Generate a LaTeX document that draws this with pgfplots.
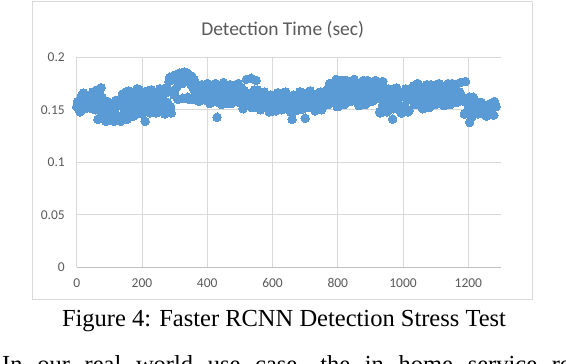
\documentclass[border=0pt]{standalone}
\usepackage{fontspec}
\setmainfont{Carlito}
\newfontfamily\capfont{Liberation Serif}
\usepackage{pgfplots}
\pgfplotsset{compat=1.18}
\definecolor{excelblue}{HTML}{5B9BD5}
\definecolor{gridgray}{HTML}{D9D9D9}
\definecolor{axisgray}{HTML}{BFBFBF}
\definecolor{labelgray}{HTML}{595959}

\pgfplotstableread{
x y
0 0.153
5 0.154
10 0.148
15 0.160
20 0.166
25 0.151
30 0.157
35 0.162
40 0.153
45 0.158
50 0.167
55 0.155
60 0.165
65 0.141
70 0.167
75 0.171
80 0.148
85 0.159
90 0.139
95 0.158
100 0.146
105 0.153
110 0.141
115 0.148
120 0.159
125 0.144
130 0.155
135 0.139
140 0.165
145 0.147
150 0.158
155 0.141
160 0.168
165 0.151
170 0.161
175 0.144
180 0.158
185 0.170
190 0.153
195 0.165
200 0.146
205 0.166
210 0.139
215 0.152
220 0.160
225 0.147
230 0.169
235 0.156
240 0.163
245 0.150
250 0.158
255 0.170
260 0.154
265 0.168
270 0.146
275 0.171
280 0.154
285 0.181
290 0.147
295 0.182
300 0.167
305 0.178
310 0.160
315 0.185
320 0.176
325 0.161
330 0.186
335 0.180
340 0.162
345 0.183
350 0.174
355 0.160
360 0.179
365 0.163
370 0.172
375 0.158
380 0.173
385 0.162
390 0.169
395 0.159
400 0.175
405 0.163
410 0.169
415 0.158
420 0.165
425 0.175
430 0.143
435 0.161
440 0.171
445 0.155
450 0.176
455 0.160
460 0.167
465 0.156
470 0.174
475 0.163
480 0.169
485 0.158
490 0.165
495 0.175
500 0.161
505 0.171
510 0.151
515 0.167
520 0.179
525 0.156
530 0.162
535 0.180
540 0.152
545 0.169
550 0.178
555 0.159
560 0.161
565 0.151
570 0.158
575 0.167
580 0.154
585 0.163
590 0.148
595 0.164
600 0.153
605 0.159
610 0.149
615 0.166
620 0.156
625 0.161
630 0.151
635 0.158
640 0.167
645 0.154
650 0.163
655 0.148
660 0.141
665 0.164
670 0.153
675 0.160
680 0.150
685 0.167
690 0.157
695 0.162
700 0.142
705 0.152
710 0.158
715 0.168
720 0.155
725 0.164
730 0.149
735 0.165
740 0.154
745 0.160
750 0.150
755 0.167
760 0.159
765 0.166
770 0.155
775 0.175
780 0.164
785 0.159
790 0.173
795 0.179
800 0.153
805 0.175
810 0.160
815 0.169
820 0.155
825 0.178
830 0.164
835 0.172
840 0.158
845 0.166
850 0.179
855 0.161
860 0.174
865 0.154
870 0.175
875 0.160
880 0.169
885 0.155
890 0.178
895 0.164
900 0.172
905 0.158
910 0.166
915 0.178
920 0.161
925 0.173
930 0.147
935 0.167
938 0.177
940 0.153
945 0.161
950 0.148
955 0.170
960 0.157
965 0.164
968 0.141
970 0.151
975 0.159
980 0.171
985 0.154
990 0.166
995 0.147
1000 0.167
1005 0.153
1010 0.161
1015 0.148
1020 0.170
1025 0.161
1030 0.168
1035 0.155
1040 0.163
1045 0.175
1050 0.158
1055 0.170
1060 0.151
1065 0.171
1070 0.157
1075 0.165
1080 0.152
1085 0.174
1090 0.161
1095 0.168
1100 0.155
1105 0.163
1110 0.175
1115 0.158
1120 0.170
1125 0.154
1130 0.173
1135 0.160
1140 0.167
1145 0.155
1150 0.175
1155 0.163
1160 0.169
1165 0.157
1170 0.165
1175 0.176
1180 0.161
1185 0.159
1190 0.146
1191 0.177
1195 0.160
1200 0.150
1204 0.138
1205 0.156
1210 0.143
1215 0.162
1220 0.152
1225 0.158
1230 0.146
1235 0.150
1240 0.157
1245 0.148
1250 0.154
1255 0.144
1260 0.155
1265 0.147
1270 0.152
1275 0.145
1280 0.158
1285 0.153
3 0.158
8 0.152
13 0.162
18 0.156
23 0.165
28 0.153
33 0.160
38 0.158
43 0.164
48 0.151
53 0.161
58 0.150
63 0.169
68 0.156
73 0.144
78 0.162
83 0.151
88 0.157
93 0.142
98 0.151
103 0.147
108 0.155
113 0.139
118 0.152
123 0.144
128 0.158
133 0.154
138 0.142
143 0.161
148 0.150
153 0.167
158 0.145
163 0.158
168 0.153
173 0.164
178 0.147
183 0.162
188 0.153
193 0.169
198 0.158
203 0.148
208 0.163
213 0.154
218 0.168
223 0.151
228 0.160
233 0.157
238 0.165
243 0.147
248 0.162
253 0.153
258 0.169
263 0.160
268 0.149
273 0.166
278 0.157
283 0.177
288 0.153
293 0.168
298 0.164
303 0.183
308 0.172
313 0.179
318 0.184
323 0.175
328 0.182
333 0.177
338 0.185
343 0.160
348 0.178
353 0.182
358 0.170
363 0.167
368 0.160
373 0.171
378 0.164
383 0.174
388 0.162
393 0.169
398 0.166
403 0.171
408 0.156
413 0.168
418 0.161
423 0.174
428 0.165
433 0.157
438 0.169
443 0.162
448 0.173
453 0.159
458 0.167
463 0.164
468 0.171
473 0.156
478 0.168
483 0.161
488 0.174
493 0.165
498 0.157
503 0.169
508 0.158
513 0.168
518 0.155
523 0.162
528 0.160
533 0.166
538 0.152
543 0.163
548 0.157
553 0.169
558 0.157
563 0.150
568 0.161
573 0.155
578 0.165
583 0.152
588 0.159
593 0.157
598 0.163
603 0.149
608 0.160
613 0.154
618 0.166
623 0.157
628 0.150
633 0.161
638 0.155
643 0.165
648 0.152
653 0.159
658 0.157
663 0.163
668 0.149
673 0.161
678 0.155
683 0.167
688 0.158
693 0.151
698 0.162
703 0.156
708 0.166
713 0.153
718 0.160
723 0.158
728 0.164
733 0.150
738 0.161
743 0.155
748 0.167
753 0.158
758 0.154
763 0.165
768 0.159
773 0.172
778 0.157
783 0.167
788 0.164
793 0.174
798 0.153
803 0.170
808 0.161
813 0.178
818 0.166
823 0.156
828 0.171
833 0.163
838 0.176
843 0.159
848 0.169
853 0.165
858 0.174
863 0.155
868 0.170
873 0.161
878 0.178
883 0.166
888 0.156
893 0.171
898 0.163
903 0.176
908 0.159
913 0.169
918 0.165
923 0.174
928 0.148
933 0.163
937 0.154
943 0.170
948 0.159
953 0.149
958 0.164
963 0.155
967 0.169
973 0.152
978 0.161
983 0.158
988 0.166
993 0.148
998 0.163
1003 0.154
1008 0.170
1013 0.159
1018 0.149
1023 0.168
1028 0.159
1033 0.173
1038 0.156
1043 0.165
1048 0.162
1053 0.170
1058 0.152
1063 0.167
1068 0.158
1073 0.174
1078 0.163
1083 0.153
1088 0.168
1093 0.159
1098 0.173
1103 0.156
1108 0.165
1113 0.162
1118 0.170
1123 0.155
1128 0.168
1133 0.161
1138 0.175
1143 0.165
1148 0.156
1153 0.169
1158 0.162
1163 0.174
1168 0.158
1173 0.167
1178 0.164
1183 0.159
1188 0.146
1193 0.157
1198 0.150
1203 0.162
1208 0.154
1213 0.147
1218 0.158
1223 0.151
1228 0.156
1233 0.147
1238 0.152
1243 0.150
1248 0.154
1253 0.145
1258 0.152
1263 0.148
1268 0.156
1273 0.150
1278 0.145
1283 0.153
}\detectiontimes

\begin{document}
\begin{tikzpicture}[x=1pt,y=1pt]
\useasboundingbox (0,0) rectangle (566,364);
\clip (0,0) rectangle (566,364);
% chart frame (Excel style)
\draw[gridgray, line width=0.8pt, fill=white] (32.7,64.5) rectangle (532.3,363);
\node[anchor=base, text=labelgray, font=\fontsize{19.5}{22}\selectfont] at (282.7,328.5) {Detection Time (sec)};
\begin{axis}[
    at={(76.7pt,96.7pt)}, anchor=south west,
    scale only axis, width=424.3pt, height=210pt,
    xmin=0, xmax=1300, ymin=0, ymax=0.2,
    clip=false,
    axis x line*=bottom, axis y line*=left,
    x axis line style={draw=axisgray, line width=0.8pt, -},
    y axis line style={draw=gridgray, line width=0.8pt, -},
    grid=major,
    major grid style={draw=gridgray, line width=0.8pt},
    major tick length=0pt,
    xtick={0,200,400,600,800,1000,1200},
    xticklabels={0,200,400,600,800,1000,1200},
    ytick={0,0.05,0.1,0.15,0.2},
    yticklabels={0,0.05,0.1,0.15,0.2},
    tick label style={text=labelgray, font=\fontsize{13.5}{15}\selectfont, inner sep=0pt},
    xticklabel style={anchor=north, yshift=-11.2pt},
    yticklabel style={anchor=east, xshift=-11.7pt},
  ]
  \addplot[only marks, mark=*, mark size=4.3pt, color=excelblue,
    mark options={fill=excelblue, draw=excelblue, line width=0pt}]
    table[x=x, y=y] {\detectiontimes};
\end{axis}
% caption and following text of the page
\node[anchor=base, inner sep=0pt, font=\capfont\fontsize{24.5}{28}\selectfont] at (284,37) {Figure 4: Faster RCNN Detection Stress Test};
\node[anchor=base west, inner sep=0pt, font=\capfont\fontsize{24.5}{28}\selectfont] at (2,-9) {\makebox[570pt][s]{In our real world use case, the in home service ro}};
\end{tikzpicture}
\end{document}
